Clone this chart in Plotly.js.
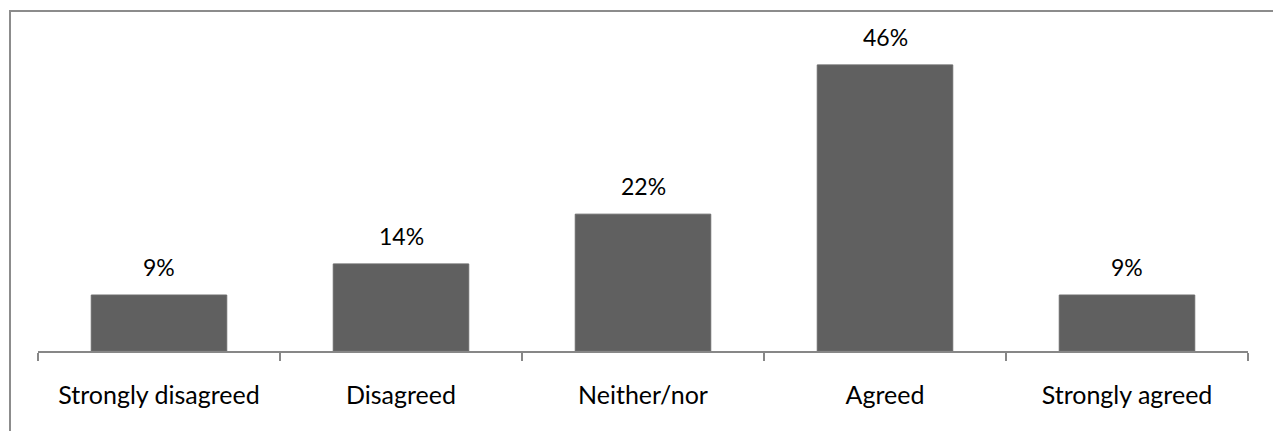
<!DOCTYPE html>
<html>
<head>
<meta charset="utf-8">
<script src="https://cdn.plot.ly/plotly-3.0.1.min.js"></script>
<style>
  html, body { margin: 0; padding: 0; background: #ffffff; }
  #wrap { position: relative; width: 1273px; height: 431px; overflow: hidden; }
  #chart { position: absolute; left: 0; top: 0; width: 1273px; height: 431px; }
  #frame { position: absolute; left: 9px; top: 10px; right: -10px; bottom: -10px;
           border-top: 2px solid #8c8c8c; border-left: 2px solid #8c8c8c; pointer-events: none; }
</style>
</head>
<body>
<div id="wrap">
  <div id="chart"></div>
  <div id="frame"></div>
</div>
<script>
// Survey responses: share of respondents per answer
const categories = ["Strongly disagreed", "Disagreed", "Neither/nor", "Agreed", "Strongly agreed"];
const shares = [9, 14, 22, 46, 9];
const shareLabels = ["9%", "14%", "22%", "46%", "9%"];

const fontFamily = "Lato, 'Noto Sans', sans-serif";

const trace = {
  type: "bar",
  x: categories,
  y: shares,
  marker: { color: "#606060", line: { color: "#6a6a6a", width: 1 } },
  hoverinfo: "skip"
};

const annotations = categories.map((c, i) => ({
  x: c,
  y: shares[i],
  xref: "x",
  yref: "y",
  text: shareLabels[i],
  showarrow: false,
  yanchor: "bottom",
  yshift: 12,
  font: { family: fontFamily, size: 23, color: "#000000" }
}));

const layout = {
  width: 1273,
  height: 431,
  margin: { l: 38, r: 25, t: 40, b: 80 },
  paper_bgcolor: "rgba(0,0,0,0)",
  plot_bgcolor: "rgba(0,0,0,0)",
  showlegend: false,
  bargap: 0.44,
  xaxis: {
    type: "category",
    showline: true,
    linecolor: "#878787",
    linewidth: 1.5,
    ticks: "outside",
    tickson: "boundaries",
    ticklen: 8,
    tickwidth: 1.5,
    tickcolor: "#878787",
    ticklabelstandoff: 21,
    tickfont: { family: fontFamily, size: 25, color: "#000000" },
    showgrid: false,
    zeroline: false
  },
  yaxis: {
    range: [0, 50],
    visible: false,
    showgrid: false,
    zeroline: false
  },
  annotations: annotations
};

Plotly.newPlot("chart", [trace], layout, { displayModeBar: false, staticPlot: true });
</script>
</body>
</html>
